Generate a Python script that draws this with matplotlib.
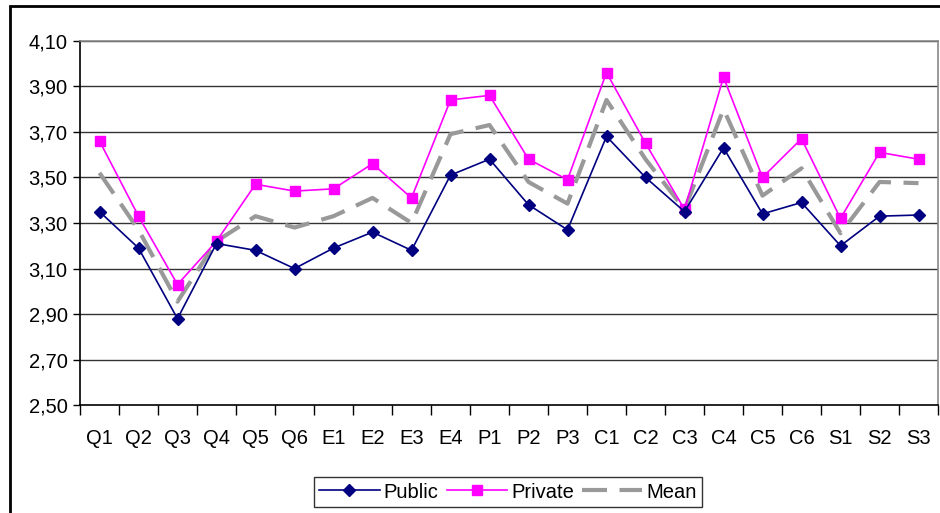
import matplotlib
matplotlib.use("Agg")
import matplotlib.pyplot as plt
from matplotlib.patches import Rectangle
from matplotlib.ticker import FixedLocator, FuncFormatter

plt.rcParams['font.family'] = ['Liberation Sans', 'DejaVu Sans']

categories = ["Q1", "Q2", "Q3", "Q4", "Q5", "Q6", "E1", "E2", "E3", "E4", "P1",
              "P2", "P3", "C1", "C2", "C3", "C4", "C5", "C6", "S1", "S2", "S3"]
public = [3.35, 3.19, 2.88, 3.21, 3.18, 3.10, 3.19, 3.26, 3.18, 3.51, 3.58,
          3.38, 3.27, 3.68, 3.50, 3.35, 3.63, 3.34, 3.39, 3.20, 3.33, 3.335]
private = [3.66, 3.33, 3.03, 3.22, 3.47, 3.44, 3.45, 3.56, 3.41, 3.84, 3.86,
           3.58, 3.49, 3.96, 3.65, 3.36, 3.94, 3.50, 3.67, 3.32, 3.61, 3.58]
mean = [3.52, 3.27, 2.955, 3.22, 3.33, 3.28, 3.33, 3.41, 3.30, 3.69, 3.73,
        3.48, 3.385, 3.84, 3.58, 3.36, 3.80, 3.42, 3.54, 3.255, 3.48, 3.475]
yticks = [2.50, 2.70, 2.90, 3.10, 3.30, 3.50, 3.70, 3.90, 4.10]

W, H = 940, 513
fig = plt.figure(figsize=(W / 100, H / 100), dpi=100)
ax = fig.add_axes([80 / W, (H - 405.3) / H, 858 / W, 364.6 / H])

x = list(range(len(categories)))
ax.plot(x, public, color="#000080", lw=1.2, marker="D", ms=6,
        label="Public", zorder=4)
ax.plot(x, private, color="#FF00FF", lw=1.2, marker="s", ms=7.5,
        label="Private", zorder=3)
ax.plot(x, mean, color="#999999", lw=3, dashes=(6, 3),
        label="Mean", zorder=2)

ax.set_xlim(-0.5, len(categories) - 0.5)
ax.set_ylim(2.5, 4.1)
ax.set_yticks(yticks)
ax.yaxis.set_major_formatter(FuncFormatter(lambda v, p: ("%.2f" % v).replace(".", ",")))
for v in yticks[1:]:
    ax.axhline(v, color="#333333", lw=1.0, zorder=1)

ax.xaxis.set_major_locator(FixedLocator([i - 0.5 for i in range(len(categories) + 1)]))
ax.xaxis.set_major_formatter(FuncFormatter(lambda v, p: ""))
ax.xaxis.set_minor_locator(FixedLocator(x))
ax.set_xticklabels(categories, minor=True)
ax.tick_params(axis="x", which="major", length=7, width=1, color="black")
ax.tick_params(axis="x", which="minor", length=0, pad=17, labelsize=14.5)
ax.tick_params(axis="y", length=5, width=1, labelsize=14.5, pad=4)

ax.spines["left"].set_color("black")
ax.spines["bottom"].set_color("black")
ax.spines["top"].set_color("#888888")
ax.spines["right"].set_color("#888888")
for s in ax.spines.values():
    s.set_linewidth(1.2)

leg = fig.legend(loc="center", bbox_to_anchor=(508 / W, 1 - 492 / H), ncol=3,
                 frameon=True, fancybox=False, fontsize=14.5, handlelength=3.0,
                 columnspacing=0.4, handletextpad=0.2, borderpad=0.25)
leg.get_frame().set_edgecolor("black")
leg.get_frame().set_linewidth(1.0)

fig.patches.append(Rectangle((10 / W, -0.05), 1.1, 1 - 6 / H + 0.05,
                             transform=fig.transFigure, fill=False,
                             edgecolor="black", lw=2, zorder=0))

fig.savefig("out.png", dpi=100)
